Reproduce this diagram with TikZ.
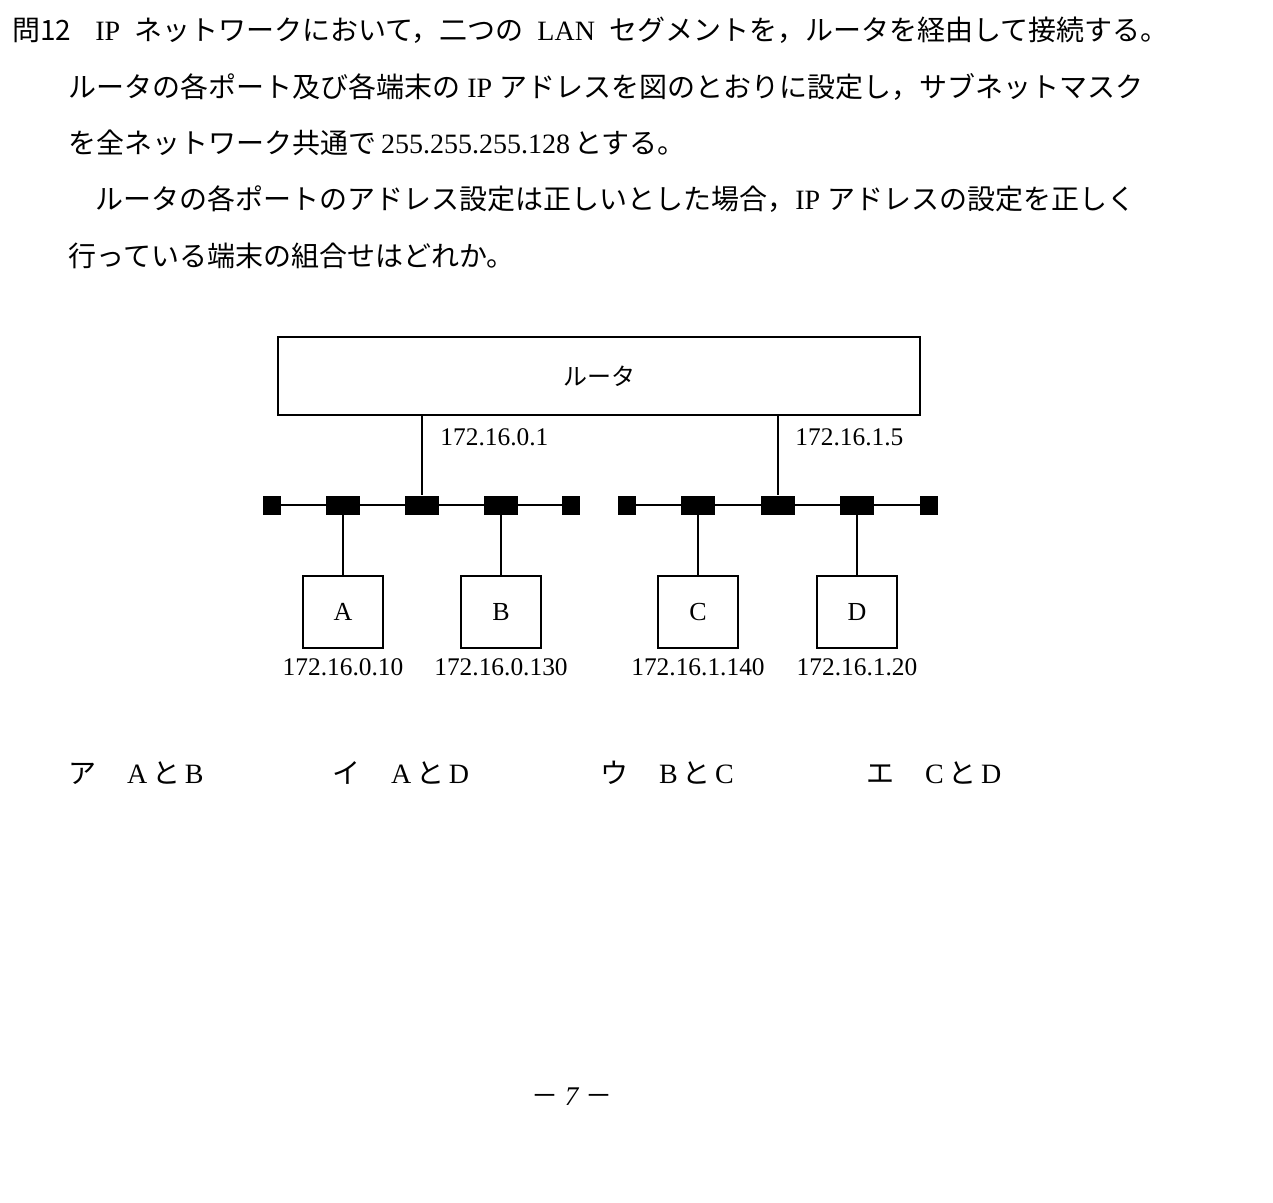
\documentclass[tikz,border=0pt]{standalone}
\usepackage{fontspec}
\setmainfont{Liberation Serif}
\newfontfamily\jp{Noto Sans CJK JP}
\newcommand{\ja}[1]{{\jp #1}}
\begin{document}
\begin{tikzpicture}
  [x=0.5pt,y=-0.5pt,every node/.style={inner sep=0pt},
   router/.style={draw,line width=1.1pt,minimum width=321pt,minimum height=39pt,font=\fontsize{12}{12}\selectfont\jp},
   host/.style={draw,line width=1.1pt,minimum width=40pt,minimum height=36pt,font=\fontsize{13}{13}\selectfont},
   tap/.style={fill,minimum width=17pt,minimum height=9.5pt},
   term/.style={fill,minimum width=9pt,minimum height=9.5pt},
   addr/.style={font=\fontsize{12.7}{13}\selectfont},
   body/.style={anchor=west,font=\fontsize{14}{16}\selectfont}]
  \useasboundingbox[fill=white] (0,0) rectangle (1273,1203);

  % question text
  \node[body] (q0) at (12,30) {\ja{問12}};
  \node[body] (q1) at (95,30) {IP\hspace{0.5em}\ja{ネットワークにおいて，二つの}\hspace{0.5em}LAN\hspace{0.5em}\ja{セグメントを，ルータを経由して接続する。}};
  \node[body] (q2) at (68,87) {\ja{ルータの各ポート及び各端末の}\ IP\ \ja{アドレスを図のとおりに設定し，サブネットマスク}};
  \node[body] (q3) at (68,143) {\ja{を全ネットワーク共通で}\,255.255.255.128\,\ja{とする。}};
  \node[body] (q4) at (95,199) {\ja{ルータの各ポートのアドレス設定は正しいとした場合，}IP\ \ja{アドレスの設定を正しく}};
  \node[body] (q5) at (68,256) {\ja{行っている端末の組合せはどれか。}};

  % router
  \node[router] (rt) at (599,376) {ルータ};

  % LAN segments
  \node[term] (eL1) at (272,505) {};
  \node[tap]  (tA)  at (343,505) {};
  \node[tap]  (pL)  at (422,505) {};
  \node[tap]  (tB)  at (501,505) {};
  \node[term] (eL2) at (571,505) {};
  \node[term] (eR1) at (627,505) {};
  \node[tap]  (tC)  at (698,505) {};
  \node[tap]  (pR)  at (778,505) {};
  \node[tap]  (tD)  at (857,505) {};
  \node[term] (eR2) at (929,505) {};
  \draw[line width=1.3pt] (eL1) -- (eL2);
  \draw[line width=1.3pt] (eR1) -- (eR2);

  % router ports
  \draw[line width=1.1pt] (pL.north |- rt.south) -- (pL);
  \draw[line width=1.1pt] (pR.north |- rt.south) -- (pR);
  \node[addr,anchor=west] (aL) at (440,437) {172.16.0.1};
  \node[addr,anchor=west] (aR) at (795,437) {172.16.1.5};

  % hosts
  \node[host] (A) at (343,612) {A};
  \node[host] (B) at (501,612) {B};
  \node[host] (C) at (698,612) {C};
  \node[host] (D) at (857,612) {D};
  \foreach \from/\to in {tA/A,tB/B,tC/C,tD/D}
    \draw[line width=1.1pt] (\from) -- (\to);
  \node[addr] (aA) at (343,667) {172.16.0.10};
  \node[addr] (aB) at (501,667) {172.16.0.130};
  \node[addr] (aC) at (698,667) {172.16.1.140};
  \node[addr] (aD) at (857,667) {172.16.1.20};

  % choices
  \node[body] (c1) at (68,773) {\ja{ア}\hspace{1.1em}A\,\ja{と}\,B};
  \node[body] (c2) at (332,773) {\ja{イ}\hspace{1.1em}A\,\ja{と}\,D};
  \node[body] (c3) at (600,773) {\ja{ウ}\hspace{1.1em}B\,\ja{と}\,C};
  \node[body] (c4) at (866,773) {\ja{エ}\hspace{1.1em}C\,\ja{と}\,D};

  % page number
  \node[font=\fontsize{13.5}{16}\selectfont] (pg) at (572,1097) {\ja{－}\ \textit{7}\ \ja{－}};
\end{tikzpicture}
\end{document}
